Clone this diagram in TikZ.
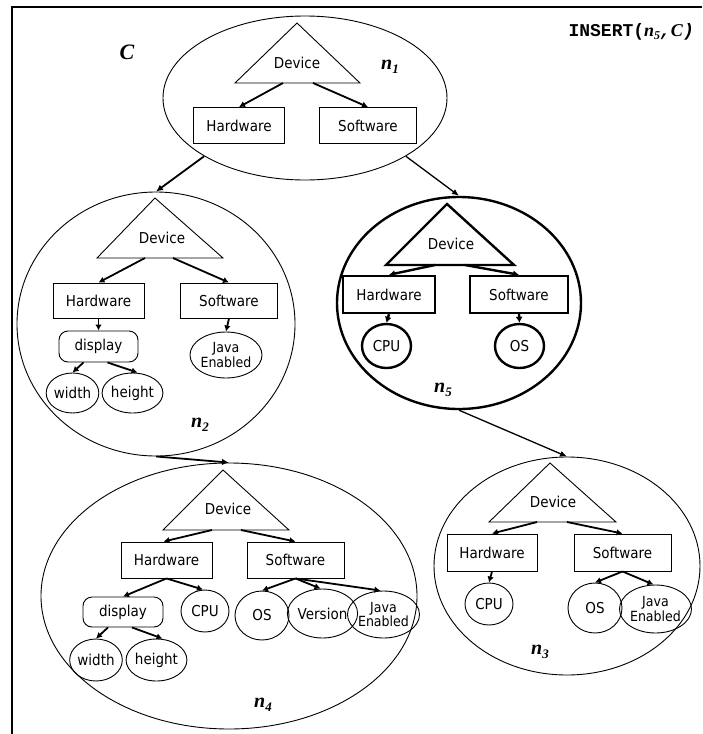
\documentclass[tikz,border=0pt]{standalone}
\usepackage{fontspec}
\usetikzlibrary{arrows.meta,shapes.geometric}
\newfontfamily\tahfont{DejaVu Sans}[FakeStretch=0.9]
\newfontfamily\serifbi{Liberation Serif}[BoldItalicFont={Liberation Serif Bold Italic}]
\newfontfamily\monob{Liberation Mono}

% label such as n_1 in heavy italic serif
\newcommand{\nodelabel}[1]{{\serifbi\bfseries\itshape\fontsize{20}{20}\selectfont n\raisebox{-4pt}{\fontsize{13}{13}\selectfont #1}}}

\tikzset{
  frameline/.style={line width=1.3pt},
  elem/.style={draw, line width=0.9pt, inner sep=0pt, font=\tahfont\fontsize{15}{16}\selectfont},
  txt/.style={inner sep=0pt, font=\tahfont\fontsize{15}{16}\selectfont},
  hwbox/.style={elem, rectangle, minimum width=91pt, minimum height=36pt},
  swbox/.style={elem, rectangle, minimum width=97pt, minimum height=36pt},
  dispbox/.style={elem, rectangle, rounded corners=9pt, minimum width=80pt, minimum height=31pt},
  leaf/.style={elem, ellipse, minimum width=48pt, minimum height=42pt},
  bigleaf/.style={elem, ellipse, minimum width=54pt, minimum height=48pt},
  javaleaf/.style={bigleaf, align=center, font=\tahfont\fontsize{14}{14.5}\selectfont},
  cluster/.style={draw, ellipse, line width=0.9pt, inner sep=0pt},
  tri/.style={line width=0.9pt, line join=miter},
  heavy/.style={line width=2.4pt},
  arr/.style={line width=1.8pt, -{Latex[length=6pt,width=6.5pt]}},
  heavyarr/.style={line width=2.4pt, -{Latex[length=6pt,width=7pt]}},
  link/.style={line width=1.8pt, -{Latex[length=7pt,width=6.5pt]}},
  thinlink/.style={line width=1.3pt, -{Latex[length=7pt,width=6pt]}},
  clabel/.style={inner sep=0pt},
}

\begin{document}
\begin{tikzpicture}[x=1pt,y=-1pt]
\useasboundingbox (0,0) rectangle (702,734);

% frame
\coordinate (fb) at (12,734);
\coordinate (ftl) at (12,7);
\coordinate (ftr) at (702,7);
\draw[frameline] (fb) -- (ftl) -- (ftr);

% titles
\node[clabel] (ctitle) at (127,52) {\serifbi\bfseries\itshape\fontsize{22}{22}\selectfont C};
\node[clabel, anchor=east] (insert) at (694,32)
  {\monob\bfseries\fontsize{18}{18}\selectfont INSERT(\serifbi\itshape n\raisebox{-3pt}{\fontsize{12}{12}\selectfont 5}\monob\bfseries,\serifbi\bfseries\itshape C\monob\bfseries)};

% ---------------- n1 ----------------
\node[cluster, minimum width=284pt, minimum height=164pt] (n1) at (305,98) {};
\coordinate (n1a) at (297,23);
\coordinate (n1l) at (235,83);
\coordinate (n1r) at (360,83);
\draw[tri] (n1a) -- (n1l) -- (n1r) -- cycle;
\node[txt] (n1dev) at (297,63) {Device};
\coordinate (n1sl) at (283,83);
\coordinate (n1sr) at (313,83);
\node[hwbox] (n1hw) at (239,125.5) {Hardware};
\node[swbox] (n1sw) at (368,125.5) {Software};
\draw[arr] (n1sl) -- (n1hw.north);
\draw[arr] (n1sr) -- (n1sw.north);
\node[clabel] (n1lab) at (390,67) {\nodelabel{1}};

% ---------------- n2 ----------------
\node[cluster, minimum width=278pt, minimum height=264pt] (n2) at (156,324) {};
\coordinate (n2a) at (155,198);
\coordinate (n2l) at (97,258);
\coordinate (n2r) at (223,258);
\draw[tri] (n2a) -- (n2l) -- (n2r) -- cycle;
\node[txt] (n2dev) at (162,238) {Device};
\coordinate (n2sl) at (145,258);
\coordinate (n2sr) at (173,258);
\node[hwbox, minimum height=35pt] (n2hw) at (98.5,300.5) {Hardware};
\node[swbox, minimum height=35pt] (n2sw) at (229,300.5) {Software};
\draw[arr] (n2sl) -- (n2hw.north);
\draw[arr] (n2sr) -- (n2sw.north);
\node[dispbox, minimum width=79pt] (n2disp) at (98.5,346.5) {display};
\node[javaleaf, minimum height=46pt] (n2java) at (226,355) {Java\\Enabled};
\node[leaf, minimum width=49pt, minimum height=40pt] (n2w) at (72.5,393) {width};
\node[leaf, minimum width=49pt, minimum height=40pt] (n2h) at (132.5,393) {height};
\draw[arr] (n2hw.south) -- (n2disp.north);
\draw[arr] (n2sw.south) -- (n2java.north);
\draw[arr] ([xshift=-15pt]n2disp.south) -- (n2w.north);
\draw[arr] ([xshift=9pt]n2disp.south) -- ([xshift=5pt]n2h.north);
\node[clabel] (n2lab) at (200,425) {\nodelabel{2}};

% ---------------- n5 (heavy outline) ----------------
\node[cluster, heavy, minimum width=244pt, minimum height=212pt] (n5) at (459,303) {};
\coordinate (n5a) at (447,204);
\coordinate (n5l) at (386,265);
\coordinate (n5r) at (514,265);
\draw[tri, heavy] (n5a) -- (n5l) -- (n5r) -- cycle;
\node[txt] (n5dev) at (451,244) {Device};
\coordinate (n5sl) at (435,265);
\coordinate (n5sr) at (465,265);
\node[hwbox, heavy, minimum width=92pt, minimum height=37pt] (n5hw) at (389,294.5) {Hardware};
\node[swbox, heavy, minimum width=98pt, minimum height=37pt] (n5sw) at (519,294.5) {Software};
\draw[heavyarr] (n5sl) -- (n5hw.north);
\draw[heavyarr] (n5sr) -- (n5sw.north);
\node[leaf, heavy, minimum width=49pt, minimum height=44pt] (n5cpu) at (386.5,346) {CPU};
\node[leaf, heavy, minimum width=49pt, minimum height=44pt] (n5os) at (519.5,346) {OS};
\draw[heavyarr] (n5hw.south) -- (n5cpu.north);
\draw[heavyarr] (n5sw.south) -- (n5os.north);
\node[clabel] (n5lab) at (443,390) {\nodelabel{5}};

% ---------------- n3 ----------------
\node[cluster, minimum width=266pt, minimum height=218pt] (n3) at (567,566) {};
\coordinate (n3a) at (550,463);
\coordinate (n3l) at (489,522);
\coordinate (n3r) at (616,522);
\draw[tri] (n3a) -- (n3l) -- (n3r) -- cycle;
\node[txt] (n3dev) at (553,502) {Device};
\coordinate (n3sl) at (537,522);
\coordinate (n3sr) at (567,522);
\node[hwbox, minimum width=90pt, minimum height=37pt] (n3hw) at (492,552.5) {Hardware};
\node[swbox, minimum height=37pt] (n3sw) at (622.5,552.5) {Software};
\draw[arr] (n3sl) -- (n3hw.north);
\draw[arr] (n3sr) -- (n3sw.north);
\node[leaf] (n3cpu) at (489,604) {CPU};
\node[bigleaf, minimum height=50pt] (n3os) at (595,608) {OS};
\node[javaleaf, minimum width=55pt] (n3java) at (655.5,609) {Java\\Enabled};
\draw[arr] (n3hw.south) -- (n3cpu.north);
\draw[arr] (n3sw.south) -- (n3os.north);
\draw[arr] (n3sw.south) -- ([xshift=-2pt]n3java.north);
\node[clabel] (n3lab) at (540,652) {\nodelabel{3}};

% ---------------- n4 ----------------
\node[cluster, minimum width=376pt, minimum height=266pt] (n4) at (229,596) {};
\coordinate (n4a) at (223,470);
\coordinate (n4l) at (163,530);
\coordinate (n4r) at (289,530);
\draw[tri] (n4a) -- (n4l) -- (n4r) -- cycle;
\node[txt] (n4dev) at (228,509) {Device};
\coordinate (n4sl) at (212,530);
\coordinate (n4sr) at (241,530);
\node[hwbox] (n4hw) at (166.5,560) {Hardware};
\node[swbox] (n4sw) at (295.5,560) {Software};
\draw[arr] (n4sl) -- ([xshift=-3pt]n4hw.north);
\draw[arr] (n4sr) -- (n4sw.north);
\node[dispbox, minimum height=30pt] (n4disp) at (123,612) {display};
\node[leaf] (n4cpu) at (205,611) {CPU};
\node[bigleaf, minimum height=49pt] (n4os) at (262,615.5) {OS};
\node[bigleaf, minimum width=53pt, minimum height=49pt] (n4ver) at (322.5,613.5) {Version};
\node[javaleaf, minimum width=55pt, minimum height=47pt] (n4java) at (383.5,614.5) {Java\\Enabled};
\node[leaf] (n4w) at (96,660) {width};
\node[leaf] (n4h) at (156.5,660) {height};
\draw[arr] (n4hw.south) -- (n4disp.north);
\draw[arr] (n4hw.south) -- ([xshift=-2pt]n4cpu.north);
\draw[arr] (n4sw.south) -- (n4os.north);
\draw[arr] (n4sw.south) -- ([xshift=-2pt]n4ver.north);
\draw[arr] (n4sw.south) -- ([xshift=-3pt]n4java.north);
\draw[arr] ([xshift=-15pt]n4disp.south) -- (n4w.north);
\draw[arr] ([xshift=9pt]n4disp.south) -- ([xshift=6pt]n4h.north);
\node[clabel] (n4lab) at (263,705) {\nodelabel{4}};

% ---------------- links between clusters ----------------
\draw[link] (n1.210) -- (n2.north);
\draw[thinlink] (n1.-30) -- (n5.north);
\draw[link] (n2.south) -- (n4.north);
\draw[thinlink] (n5.south) -- (n3.north);

\end{tikzpicture}
\end{document}
